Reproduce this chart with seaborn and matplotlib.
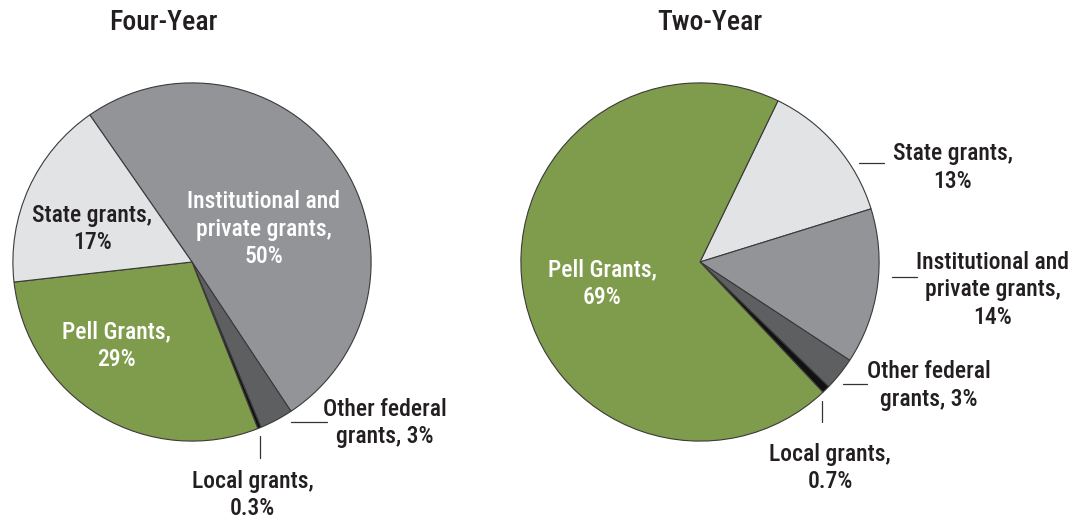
import matplotlib
matplotlib.use("Agg")
import matplotlib.pyplot as plt
from matplotlib import font_manager
import seaborn as sns

# data
four_labels = ["Institutional and\nprivate grants,\n50%", "Other federal\ngrants, 3%",
               "Local grants,\n0.3%", "Pell Grants,\n29%", "State grants,\n17%"]
four_values = [50, 3, 0.3, 29, 17]
two_labels = ["State grants,\n13%", "Institutional and\nprivate grants,\n14%",
              "Other federal\ngrants, 3%", "Local grants,\n0.7%", "Pell Grants,\n69%"]
two_values = [13, 14, 3, 0.7, 69]

green = "#7f9b4c"
light = "#e2e3e5"
mid = "#929497"
dark = "#5e5f61"
black = "#111111"
four_colors = [mid, dark, black, green, light]
two_colors = [light, mid, dark, black, green]

sns.set_theme(style="white")
names = {f.name for f in font_manager.fontManager.ttflist}
prefs = ["Roboto Condensed", "Liberation Sans Narrow", "Archivo Narrow", "PT Sans Narrow",
         "Fira Sans Condensed", "IBM Plex Sans Condensed", "Roboto"]
fam = next(n for n in prefs if n in names)
plt.rcParams["font.family"] = [fam, "DejaVu Sans"]
wt = "medium"

W, H = 1079, 522
R = 180
fig = plt.figure(figsize=(W / 100, H / 100), dpi=100)
txt = "#231f20"


def pie_axes(cx, cy):
    ax = fig.add_axes([(cx - R) / W, (H - cy - R) / H, 2 * R / W, 2 * R / H])
    return ax


def to_data(cx, cy, px, py):
    return (px - cx) / R, (cy - py) / R


def draw(ax, values, colors, start):
    ax.pie(values, colors=colors, startangle=start, counterclock=False, radius=1,
           wedgeprops=dict(edgecolor="#3a3a3a", linewidth=0.8))
    ax.set_xlim(-1.005, 1.005)
    ax.set_ylim(-1.005, 1.005)
    ax.set_axis_off()


def label(ax, cx, cy, px, py, s, color=txt):
    x, y = to_data(cx, cy, px, py)
    ax.text(x, y, s, ha="center", va="center", fontsize=17, fontweight=wt,
            color=color, linespacing=1.25, clip_on=False)


def leader(ax, cx, cy, p1, p2):
    x1, y1 = to_data(cx, cy, *p1)
    x2, y2 = to_data(cx, cy, *p2)
    ax.plot([x1, x2], [y1, y2], color="#333333", lw=0.9, clip_on=False)


# Four-Year
cx1, cy1 = 192, 262
ax1 = pie_axes(cx1, cy1)
draw(ax1, four_values, four_colors, 124.8)
label(ax1, cx1, cy1, 264, 229, four_labels[0], "white")
label(ax1, cx1, cy1, 92, 229, four_labels[4])
label(ax1, cx1, cy1, 116, 346, four_labels[3], "white")
label(ax1, cx1, cy1, 386, 424, four_labels[1])
label(ax1, cx1, cy1, 253, 496, four_labels[2])
leader(ax1, cx1, cy1, (291, 423), (328, 423))
leader(ax1, cx1, cy1, (260, 437), (260, 459))
fig.text(163 / W, 1 - 22 / H, "Four-Year", ha="center", va="center",
         fontsize=20, fontweight=wt, color=txt)

# Two-Year
cx2, cy2 = 700, 262
ax2 = pie_axes(cx2, cy2)
draw(ax2, two_values, two_colors, 64.2)
label(ax2, cx2, cy2, 602, 284, two_labels[4], "white")
label(ax2, cx2, cy2, 954, 167, two_labels[0])
label(ax2, cx2, cy2, 994, 290, two_labels[1])
label(ax2, cx2, cy2, 930, 386, two_labels[2])
label(ax2, cx2, cy2, 831, 469, two_labels[3])
leader(ax2, cx2, cy2, (860, 163), (885, 163))
leader(ax2, cx2, cy2, (893, 277), (918, 277))
leader(ax2, cx2, cy2, (844, 385), (868, 385))
leader(ax2, cx2, cy2, (823, 402), (823, 423))
fig.text(710 / W, 1 - 22 / H, "Two-Year", ha="center", va="center",
         fontsize=20, fontweight=wt, color=txt)

fig.savefig("out.png", dpi=100)
